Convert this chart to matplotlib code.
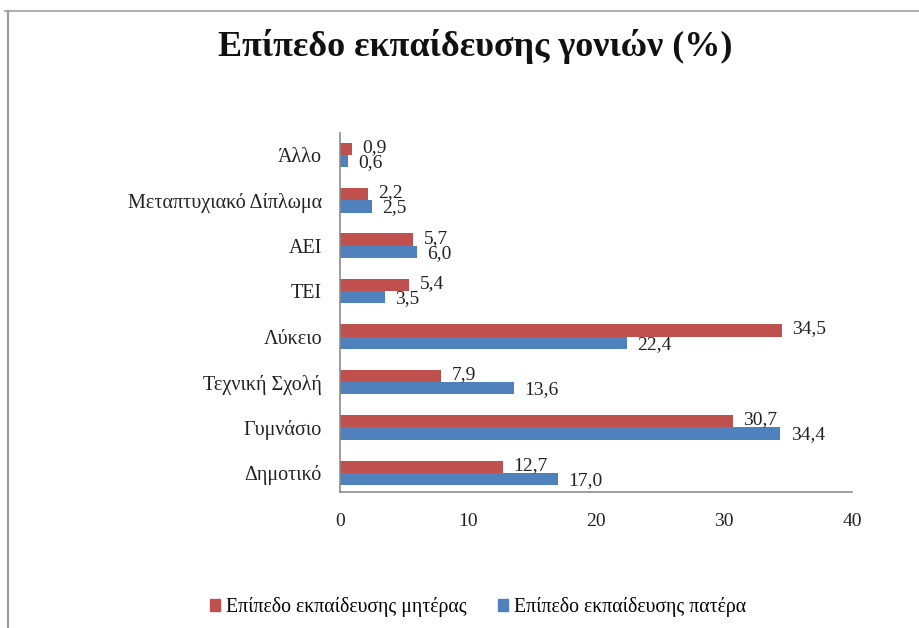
import matplotlib
matplotlib.use("Agg")
import matplotlib.pyplot as plt
from matplotlib.lines import Line2D
from matplotlib.patches import Patch
import numpy as np

categories = ["Δημοτικό", "Γυμνάσιο", "Τεχνική Σχολή", "Λύκειο", "ΤΕΙ", "ΑΕΙ",
              "Μεταπτυχιακό Δίπλωμα", "Άλλο"]
mother = [12.7, 30.7, 7.9, 34.5, 5.4, 5.7, 2.2, 0.9]
father = [17.0, 34.4, 13.6, 22.4, 3.5, 6.0, 2.5, 0.6]
series_names = ["Επίπεδο εκπαίδευσης μητέρας", "Επίπεδο εκπαίδευσης πατέρα"]
title = "Επίπεδο εκπαίδευσης γονιών (%)"
xticks = [0, 10, 20, 30, 40]

RED = "#C0504D"
BLUE = "#4F81BD"
plt.rcParams['font.family'] = ['Liberation Serif', 'DejaVu Serif']

W, H = 920, 628
fig = plt.figure(figsize=(W / 100, H / 100), dpi=100)
ax = fig.add_axes([340 / W, 1 - 492 / H, (852 - 340) / W, (492 - 133) / H])

y = np.arange(len(categories))
h = 0.27
ax.barh(y + h / 2, mother, height=h, color=RED, label=series_names[0])
ax.barh(y - h / 2, father, height=h, color=BLUE, label=series_names[1])

def fmt(v):
    return f"{v:.1f}".replace(".", ",")

for yi, v in zip(y, mother):
    ax.annotate(fmt(v), (v, yi + h / 2), xytext=(7.5, 1), textcoords="offset points",
                va="center", ha="left", fontsize=14, color="#222222")
for yi, v in zip(y, father):
    ax.annotate(fmt(v), (v, yi - h / 2), xytext=(7.5, -1), textcoords="offset points",
                va="center", ha="left", fontsize=14, color="#222222")

ax.set_xlim(0, 40)
ax.set_ylim(-0.42, 7.48)
ax.set_xticks(xticks)
ax.set_xticklabels([str(t) for t in xticks], fontsize=14, color="#222222")
ax.set_yticks(y)
ax.set_yticklabels(categories, fontsize=14.5, color="#222222")
ax.tick_params(axis="both", length=0)
ax.tick_params(axis="x", pad=15)
ax.tick_params(axis="y", pad=13)
for s in ["top", "right"]:
    ax.spines[s].set_visible(False)
for s in ["left", "bottom"]:
    ax.spines[s].set_color("#8c8c8c")
    ax.spines[s].set_linewidth(1.2)

fig.text(475 / W, 1 - 46 / H, title, ha="center", va="center", fontsize=26,
         fontweight="bold", color="#111111")

handles = [Patch(color=RED), Patch(color=BLUE)]
fig.legend(handles, series_names, loc="center", bbox_to_anchor=(478 / W, 1 - 607 / H),
           ncol=2, frameon=False, fontsize=14.2, handlelength=0.5, handleheight=0.5,
           handletextpad=0.3, columnspacing=1.6)

# Frame lines (top and left)
fig.add_artist(Line2D([5 / W, 1], [1 - 11 / H, 1 - 11 / H], color="#b0b0b0", lw=1.5))
fig.add_artist(Line2D([8 / W, 8 / W], [0, 1 - 11 / H], color="#9a9a9a", lw=1.5))

fig.savefig("out.png", dpi=100)
